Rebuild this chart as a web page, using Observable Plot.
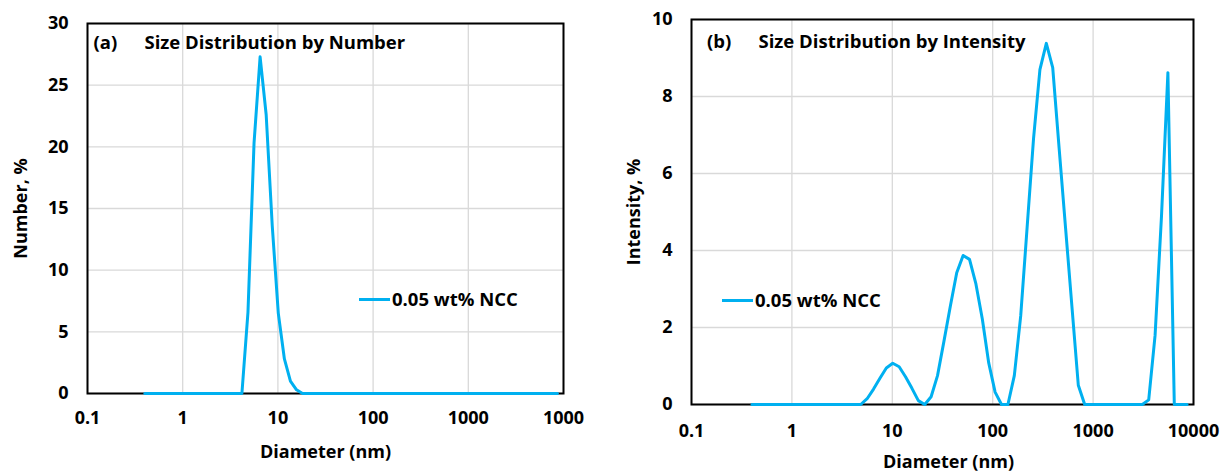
<!DOCTYPE html>
<html>
<head>
<meta charset="utf-8">
<script src="https://cdn.jsdelivr.net/npm/d3@7"></script>
<script src="https://cdn.jsdelivr.net/npm/@observablehq/plot@0.6"></script>
<style>
  body { margin: 0; background: #fff; }
  #fig { position: relative; width: 1222px; height: 472px; overflow: hidden; background: #fff;
         font-family: "Open Sans", sans-serif; font-weight: 700; }
  .panel { position: absolute; top: 0; }
  .legend { position: absolute; display: flex; align-items: center; font-size: 18.5px; line-height: 20px;
            color: #000; white-space: nowrap; }
  .legend .swatch { display: inline-block; width: 31px; height: 3px; background: #00b0f0; margin-right: 2px; }
</style>
</head>
<body>
<div id="fig"></div>
<script>
// Size classes of the particle-size analyser (nm)
const diameters = [
  0.4, 0.4632, 0.5365, 0.6213, 0.7195, 0.8332, 0.9649, 1.117, 1.294, 1.499,
  1.736, 2.01, 2.328, 2.696, 3.122, 3.615, 4.187, 4.849, 5.615, 6.503,
  7.531, 8.721, 10.1, 11.7, 13.54, 15.69, 18.17, 21.04, 24.36, 28.21,
  32.67, 37.84, 43.82, 50.75, 58.77, 68.06, 78.82, 91.28, 105.7, 122.4,
  141.8, 164.2, 190.1, 220.2, 255, 295.3, 342, 396.1, 458.7, 531.2,
  615.1, 712.4, 825, 955.4, 1106, 1281, 1484, 1718, 1990, 2305,
  2669, 3091, 3580, 4145, 4801, 5560, 6439, 7456, 8635
];

// 0.05 wt% NCC — size distribution by number (%)
const numberPct = [
  0, 0, 0, 0, 0, 0, 0, 0, 0, 0,
  0, 0, 0, 0, 0, 0, 0, 6.6, 20.3, 27.3,
  22.6, 13.6, 6.5, 2.8, 1.0, 0.3, 0, 0, 0, 0,
  0, 0, 0, 0, 0, 0, 0, 0, 0, 0,
  0, 0, 0, 0, 0, 0, 0, 0, 0, 0,
  0, 0, 0, 0, 0, 0, 0, 0, 0, 0,
  0, 0, 0, 0, 0, 0, 0, 0, 0
];

// 0.05 wt% NCC — size distribution by intensity (%)
const intensityPct = [
  0, 0, 0, 0, 0, 0, 0, 0, 0, 0,
  0, 0, 0, 0, 0, 0, 0, 0, 0.15, 0.4,
  0.68, 0.95, 1.07, 0.98, 0.72, 0.42, 0.1, 0, 0.2, 0.75,
  1.64, 2.55, 3.42, 3.87, 3.77, 3.13, 2.22, 1.08, 0.32, 0,
  0, 0.75, 2.3, 4.6, 6.9, 8.7, 9.38, 8.75, 6.66, 4.6,
  2.55, 0.5, 0, 0, 0, 0, 0, 0, 0, 0,
  0, 0, 0.12, 1.8, 4.9, 8.62, 0, 0, 0
];

const xTicks = [0.1, 1, 10, 100, 1000, 10000];
const xTickLabelsA = ["0.1", "1", "10", "100", "1000", "1000"];
const xTickLabelsB = ["0.1", "1", "10", "100", "1000", "10000"];
const yTicksA = [0, 5, 10, 15, 20, 25, 30];
const yTicksB = [0, 2, 4, 6, 8, 10];

const seriesName = "0.05 wt% NCC";
const lineColor = "#00b0f0";
const gridColor = "#d9d9d9";
const font = "'Open Sans', sans-serif";

function panel(opts) {
  const rows = diameters.map((d, i) => ({d, v: opts.values[i]}));
  const labelOf = v => opts.xLabels[xTicks.indexOf(v)];
  const txt = {fontSize: 18, fontWeight: 700, fill: "#000"};
  const head = {fontSize: 18.5, fontWeight: 700, fill: "#000"};
  return Plot.plot({
    width: opts.width,
    height: 472,
    marginLeft: opts.m[3], marginRight: opts.m[1], marginTop: opts.m[0], marginBottom: opts.m[2],
    style: {fontFamily: font, fontSize: "18px", fontWeight: 700, color: "#000", background: "transparent", overflow: "visible"},
    x: {type: "log", domain: [0.1, 10000], ticks: xTicks, tickFormat: labelOf, tickSize: 0, tickPadding: opts.xPad, label: null},
    y: {domain: opts.yDomain, ticks: opts.yTicks, tickSize: 0, tickPadding: 19, label: null},
    marks: [
      Plot.ruleX(xTicks, {stroke: gridColor, strokeWidth: 1.3}),
      Plot.ruleY(opts.yTicks, {stroke: gridColor, strokeWidth: 1.3}),
      Plot.frame({stroke: "#000", strokeWidth: 2}),
      Plot.line(rows, {x: "d", y: "v", stroke: lineColor, strokeWidth: 3, strokeLinejoin: "round"}),
      Plot.text([opts.tag], {text: d => d, frameAnchor: "top-left", textAnchor: "start", lineAnchor: "middle", dx: opts.tagDx, dy: opts.titleDy, ...head}),
      Plot.text([opts.title], {text: d => d, frameAnchor: "top-left", textAnchor: "start", lineAnchor: "middle", dx: opts.titleDx, dy: opts.titleDy, ...head}),
      Plot.text(["Diameter (nm)"], {text: d => d, frameAnchor: "bottom", textAnchor: "middle", lineAnchor: "middle", dx: opts.xLabelDx, dy: opts.xLabelDy, ...txt}),
      Plot.text([opts.yLabel], {text: d => d, frameAnchor: "left", rotate: -90, textAnchor: "middle", lineAnchor: "middle", dx: opts.yLabelDx, ...txt})
    ]
  });
}

const fig = document.getElementById("fig");

const a = panel({
  values: numberPct, yDomain: [0, 30], yTicks: yTicksA, xLabels: xTickLabelsA,
  width: 610, m: [23, 47, 79, 87], xPad: 18,
  tag: "(a)", title: "Size Distribution by Number", tagDx: 6, titleDx: 57, titleDy: 20,
  xLabelDx: 0, xLabelDy: 59, yLabel: "Number, %", yLabelDx: -66
});
a.classList.add("panel");
a.style.left = "0px";
fig.appendChild(a);

const b = panel({
  values: intensityPct, yDomain: [0, 10], yTicks: yTicksB, xLabels: xTickLabelsB,
  width: 612, m: [19, 29, 68, 81], xPad: 20,
  tag: "(b)", title: "Size Distribution by Intensity", tagDx: 15.5, titleDx: 67, titleDy: 23,
  xLabelDx: 6, xLabelDy: 58, yLabel: "Intensity, %", yLabelDx: -57
});
b.classList.add("panel");
b.style.left = "610px";
fig.appendChild(b);

// Legends (one series per panel)
function legend(left, top) {
  const el = document.createElement("div");
  el.className = "legend";
  el.style.left = left + "px";
  el.style.top = top + "px";
  const sw = document.createElement("span");
  sw.className = "swatch";
  const label = document.createElement("span");
  label.textContent = seriesName;
  el.append(sw, label);
  fig.appendChild(el);
}
legend(359, 289);
legend(722, 290);
</script>
</body>
</html>
